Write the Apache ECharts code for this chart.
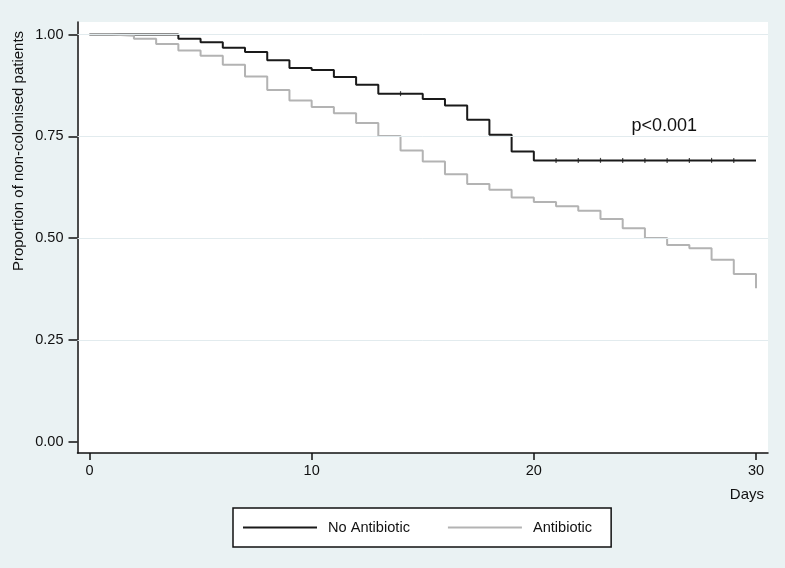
<!DOCTYPE html>
<html>
<head>
<meta charset="utf-8">
<script src="https://cdn.jsdelivr.net/npm/echarts@6/dist/echarts.min.js"></script>
<style>
  html, body { margin: 0; padding: 0; background: #eaf2f3; }
  #chart { width: 785px; height: 568px; }
</style>
</head>
<body>
<div id="chart"></div>
<script>
// ---- data ----
const days = [0,1,2,3,4,5,6,7,8,9,10,11,12,13,14,15,16,17,18,19,20,21,22,23,24,25,26,27,28,29,30];
const noAntibiotic = [1.000,1.000,1.000,1.000,0.990,0.981,0.968,0.957,0.937,0.918,0.913,0.896,0.877,0.855,0.855,0.842,0.826,0.791,0.754,0.713,0.691,0.691,0.691,0.691,0.691,0.691,0.691,0.691,0.691,0.691,0.691];
const antibiotic = [1.000,0.997,0.990,0.977,0.961,0.948,0.926,0.897,0.864,0.838,0.822,0.807,0.783,0.751,0.715,0.688,0.657,0.633,0.619,0.600,0.589,0.578,0.567,0.547,0.524,0.500,0.483,0.475,0.447,0.412,0.377];
const censorDays = [14,21,22,23,24,25,26,27,28,29];
const xTicks = [0,10,20,30];
const yTicks = [0,0.25,0.5,0.75,1];
const gridLines = [0.25,0.5,0.75,1];
const seriesNames = ['No Antibiotic','Antibiotic'];
const pLabel = 'p<0.001';

const FONT = 'Liberation Sans, Arial, sans-serif';
const chart = echarts.init(document.getElementById('chart'), null, {renderer: 'canvas'});

const option = {
  backgroundColor: '#eaf2f3',
  animation: false,
  grid: {
    left: 77.5, right: 17, top: 22, bottom: 115,
    show: true, backgroundColor: '#ffffff', borderWidth: 0
  },
  xAxis: {
    type: 'value', min: -0.54, max: 30.54,
    axisLine: { show: true, onZero: false, lineStyle: { color: '#111', width: 1.5 } },
    axisTick: { show: true, customValues: xTicks, length: 7, inside: false, lineStyle: { color: '#111', width: 1.5 } },
    axisLabel: { customValues: xTicks, margin: 10, fontSize: 14.5, color: '#111', fontFamily: FONT },
    splitLine: { show: false }
  },
  yAxis: {
    type: 'value', min: -0.028, max: 1.031,
    axisLine: { show: true, onZero: false, lineStyle: { color: '#111', width: 1.5 } },
    axisTick: { show: true, customValues: yTicks, length: 9, inside: false, lineStyle: { color: '#111', width: 1.5 } },
    axisLabel: { customValues: yTicks, margin: 14, fontSize: 14.5, color: '#111', fontFamily: FONT,
                 formatter: v => v.toFixed(2) },
    splitLine: { show: false }
  },
  legend: {
    data: seriesNames,
    left: 233, top: 508,
    orient: 'horizontal',
    backgroundColor: '#ffffff',
    borderColor: '#111', borderWidth: 1.5, borderRadius: 0,
    padding: [12, 19, 12, 10],
    icon: 'rect', itemWidth: 74, itemHeight: 2, itemGap: 38,
    textStyle: { fontSize: 14.6, color: '#111', fontFamily: FONT, padding: [0, 0, 0, 6] }
  },
  series: [
    {
      name: '_grid', type: 'line', data: [], z: 1, silent: true,
      markLine: {
        silent: true, symbol: 'none', label: { show: false },
        lineStyle: { color: '#e2ebee', width: 1, type: 'solid' },
        data: gridLines.map(v => ({ yAxis: v }))
      }
    },
    {
      name: seriesNames[0], type: 'line', step: 'end', showSymbol: false, z: 3,
      color: '#1a1a1a',
      lineStyle: { color: '#1a1a1a', width: 2 },
      data: days.map((d, i) => [d, noAntibiotic[i]])
    },
    {
      name: seriesNames[1], type: 'line', step: 'end', showSymbol: false, z: 4,
      color: '#b3b3b3',
      lineStyle: { color: '#b3b3b3', width: 2 },
      data: days.map((d, i) => [d, antibiotic[i]])
    },
    {
      name: '_censor', type: 'scatter', z: 5, silent: true,
      symbol: 'rect', symbolSize: [1.2, 5],
      itemStyle: { color: '#1a1a1a' },
      data: censorDays.map(d => [d, noAntibiotic[d]])
    }
  ],
  graphic: [
    {
      type: 'text', x: 18.5, y: 151, rotation: Math.PI / 2,
      style: { text: 'Proportion of non-colonised patients', fontSize: 15, fontFamily: FONT,
               fill: '#111', align: 'center', verticalAlign: 'middle' }
    },
    {
      type: 'text', x: 764, y: 495,
      style: { text: 'Days', fontSize: 15, fontFamily: FONT, fill: '#111',
               align: 'right', verticalAlign: 'middle' }
    },
    {
      type: 'text', x: 697, y: 126,
      style: { text: pLabel, fontSize: 18, fontFamily: FONT, fill: '#111',
               align: 'right', verticalAlign: 'middle' }
    }
  ]
};
chart.setOption(option);
</script>
</body>
</html>
